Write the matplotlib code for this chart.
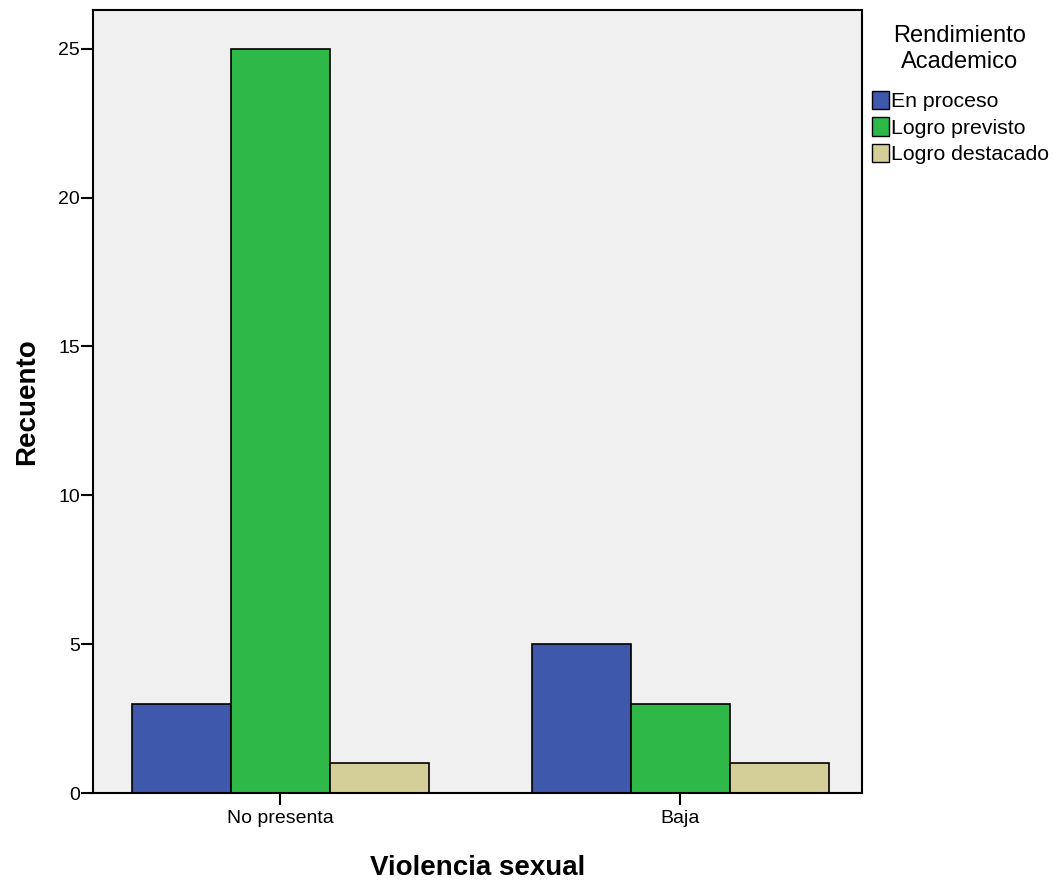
import numpy as np
import matplotlib
matplotlib.use('Agg')
import matplotlib.pyplot as plt
from matplotlib.patches import Patch

categories = ['No presenta', 'Baja']
series_names = ['En proceso', 'Logro previsto', 'Logro destacado']
en_proceso = [3, 5]
logro_previsto = [25, 3]
logro_destacado = [1, 1]
yticks = [0, 5, 10, 15, 20, 25]

colors = ['#3e58ac', '#2eb848', '#d4ce98']

plt.rcParams['font.family'] = ['Liberation Sans', 'DejaVu Sans']

fig = plt.figure(figsize=(10.61, 8.83), dpi=100)
ax = fig.add_axes([0.0877, 0.1019, 0.7248, 0.8868])
ax.set_facecolor('#f0f0f0')

x = np.arange(len(categories))
w = 0.2475
for i, (vals, name) in enumerate(zip([en_proceso, logro_previsto, logro_destacado], series_names)):
    ax.bar(x + (i - 1) * w, vals, width=w, color=colors[i], edgecolor='black',
           linewidth=1.2, label=name, zorder=2)

ax.set_xlim(-0.4675, 1.455)
ax.set_ylim(0, 26.3)
ax.set_yticks(yticks)
ax.set_xticks(x)
ax.set_xticklabels(categories)
ax.tick_params(axis='both', direction='out', length=8.5, width=1.5, labelsize=14, colors='black')
ax.tick_params(axis='y', pad=1)
ax.tick_params(axis='x', pad=4)
for sp in ax.spines.values():
    sp.set_linewidth(1.5)
    sp.set_color('black')

ax.set_xlabel('Violencia sexual', fontsize=20, fontweight='bold', labelpad=20)
ax.set_ylabel('Recuento', fontsize=20, fontweight='bold', labelpad=13)

# legend title drawn separately so it sits centred above the entries
fig.text(960 / 1061, 1 - 49 / 883, 'Rendimiento\nAcademico', ha='center', va='center',
         fontsize=17, linespacing=1.25)

handles = [Patch(facecolor=c, edgecolor='black', linewidth=1.0) for c in colors]
leg = fig.legend(handles, series_names,
                 loc='upper left', bbox_to_anchor=(0.8215, 1 - 91 / 883), frameon=False,
                 fontsize=15.3, handlelength=0.8, handleheight=0.95,
                 handletextpad=0.12, labelspacing=0.28, borderaxespad=0, borderpad=0)

fig.savefig('out.png', dpi=100)
